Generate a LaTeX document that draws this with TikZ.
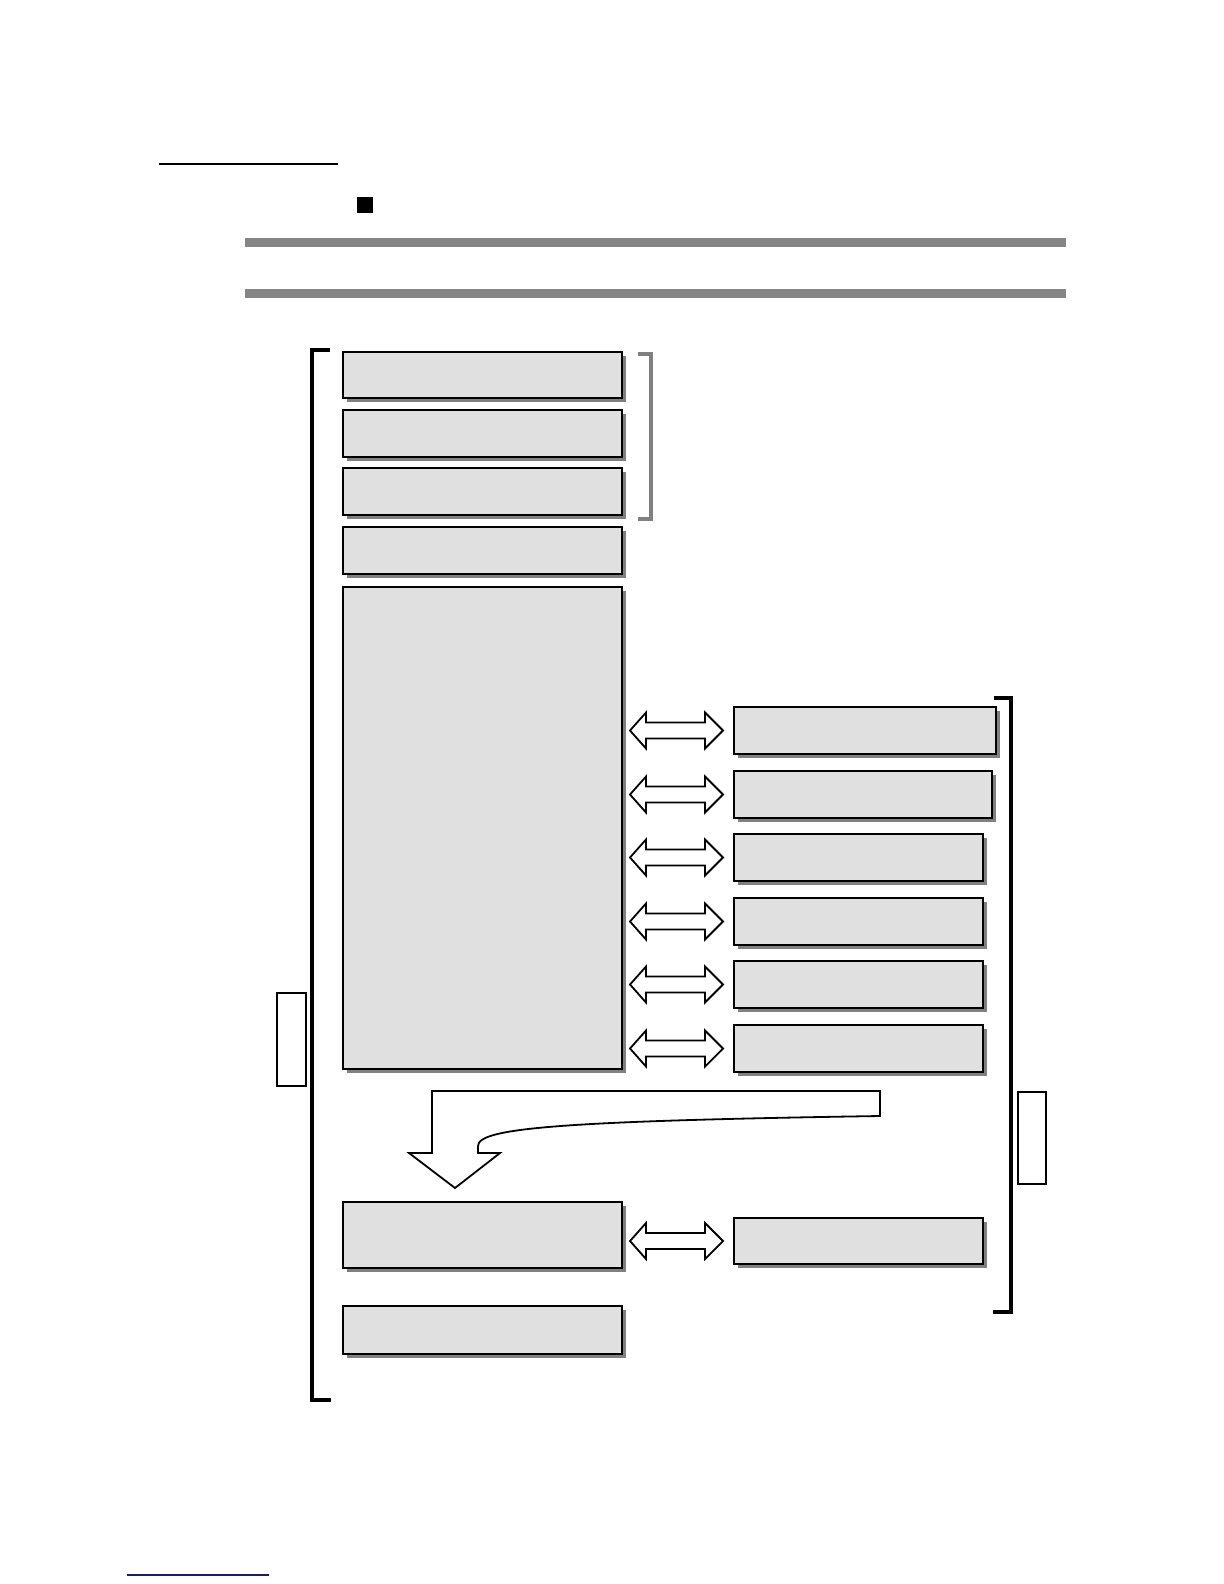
\documentclass[tikz,border=0pt]{standalone}
\usetikzlibrary{shadows,calc}
\definecolor{panelfill}{HTML}{E0E0E0}
\definecolor{shadowgray}{HTML}{808080}
\definecolor{bargray}{HTML}{858585}
\definecolor{navyline}{HTML}{1A1A70}
\tikzset{
  panel/.style={draw=black, line width=1.1pt, fill=panelfill, inner sep=0pt, outer sep=0pt,
    drop shadow={shadow xshift=2pt, shadow yshift=-2pt, fill=shadowgray, opacity=1}},
  tag/.style={draw=black, line width=1pt, fill=white, inner sep=0pt, outer sep=0pt},
  blockarrow/.style={draw=black, line width=0.9pt, fill=white, line join=miter},
  bracketline/.style={draw=black, line width=1.6pt, line cap=butt},
  greybracket/.style={draw=shadowgray, line width=1.7pt, line cap=butt},
}
\newcommand\pbox[6]{\node[#1, minimum width={(#5-#3)*0.5pt}, minimum height={(#6-#4)*0.5pt}] (#2) at ({(#3+#5)/2},{(#4+#6)/2}) {};}
\newcommand\dblarr[2]{%
  \draw[blockarrow] let \p1=($(#1)+(8,0)$), \p2=($(#2)+(-11,0)$) in
    (\x1,\y2) -- (\x1+8pt,\y2+9pt) -- (\x1+8pt,\y2+4pt) -- (\x2-9pt,\y2+4pt) -- (\x2-9pt,\y2+9pt)
    -- (\x2,\y2) -- (\x2-9pt,\y2-9pt) -- (\x2-9pt,\y2-4pt) -- (\x1+8pt,\y2-4pt) -- (\x1+8pt,\y2-9pt) -- cycle;}
\begin{document}
\begin{tikzpicture}[x=0.5pt,y=-0.5pt]
\useasboundingbox (0,0) rectangle (1224,1584);
% header
\draw[line width=0.6pt] (159,164) -- (338,164);
\fill[black] (357,197) rectangle (373,213);
\fill[bargray] (245,238) rectangle (1066,247);
\fill[bargray] (245,289) rectangle (1066,298);
% left column boxes
\pbox{panel}{B1}{343}{352}{622}{398}
\pbox{panel}{B2}{343}{410}{622}{457}
\pbox{panel}{B3}{343}{468}{622}{515}
\pbox{panel}{B4}{343}{527}{622}{574}
\pbox{panel}{B5}{343}{587}{622}{1069}
\pbox{panel}{B7}{343}{1202}{622}{1268}
\pbox{panel}{B8}{343}{1306}{622}{1354}
% right column boxes
\pbox{panel}{R1}{734}{707}{996}{754}
\pbox{panel}{R2}{734}{771}{992}{818}
\pbox{panel}{R3}{734}{834}{983}{881}
\pbox{panel}{R4}{734}{898}{983}{945}
\pbox{panel}{R5}{734}{961}{983}{1008}
\pbox{panel}{R6}{734}{1025}{983}{1072}
\pbox{panel}{R7}{734}{1218}{983}{1264}
% small tags
\pbox{tag}{TL}{277}{993}{306}{1086}
\pbox{tag}{TR}{1018}{1092}{1046}{1184}
% brackets
\draw[bracketline] (330,350) -- (312,350) -- (312,1400) -- (331,1400);
\draw[greybracket] (638,354) -- (651,354) -- (651,519) -- (638,519);
\draw[bracketline] (994,698) -- (1011,698) -- (1011,1312) -- (993,1312);
% double arrows
\dblarr{B5.east}{R1.west}
\dblarr{B5.east}{R2.west}
\dblarr{B5.east}{R3.west}
\dblarr{B5.east}{R4.west}
\dblarr{B5.east}{R5.west}
\dblarr{B5.east}{R6.west}
\dblarr{B7.east}{R7.west}
% curved block arrow
\draw[blockarrow] (432,1153) -- (432,1091) -- (880,1091) -- (880,1116)
  .. controls (560,1121) and (478,1128) .. (478,1146) -- (478,1153)
  -- (500,1153) -- (455,1188) -- (409,1153) -- cycle;
% footer
\draw[navyline, line width=0.7pt] (127,1575) -- (269,1575);
\end{tikzpicture}
\end{document}
